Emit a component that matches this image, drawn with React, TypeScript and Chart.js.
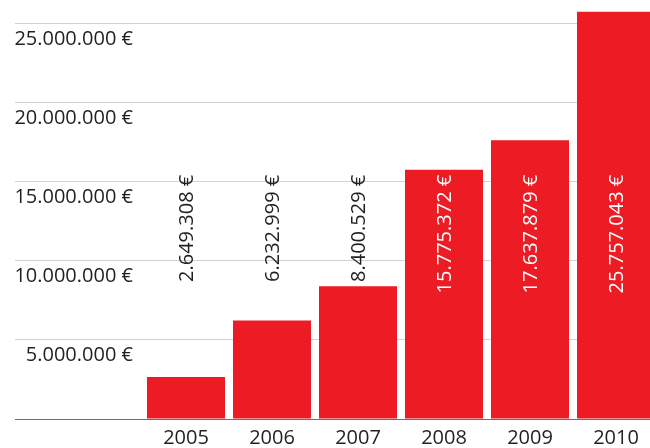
import React, { useEffect, useRef } from "react";
import { Chart, registerables } from "chart.js";

Chart.register(...registerables);

const years = ["2005", "2006", "2007", "2008", "2009", "2010"];
const revenue = [2649308, 6232999, 8400529, 15775372, 17637879, 25757043];
const yTicks = [0, 5000000, 10000000, 15000000, 20000000, 25000000];
const yMax = 26000000;
const labelAnchorValue = 15450000;

const RED = "#ED1C24";
const TEXT = "#231f20";
const FONT = "'Open Sans', 'Noto Sans', sans-serif";

function fmt(v: number): string {
  return String(Math.round(v)).replace(/\B(?=(\d{3})+(?!\d))/g, ".") + " €";
}

const valueLabels = {
  id: "valueLabels",
  afterDatasetsDraw(chart: any) {
    const ctx = chart.ctx;
    const meta = chart.getDatasetMeta(0);
    const y = chart.scales.y;
    const anchor = y.getPixelForValue(labelAnchorValue);
    ctx.save();
    ctx.font = `20px ${FONT}`;
    ctx.textAlign = "right";
    ctx.textBaseline = "middle";
    meta.data.forEach((el: any, i: number) => {
      const v = revenue[i];
      const inside = el.y < anchor;
      ctx.save();
      ctx.translate(el.x, anchor);
      ctx.rotate(-Math.PI / 2);
      ctx.fillStyle = inside ? "#ffffff" : TEXT;
      ctx.fillText(fmt(v), 0, 1);
      ctx.restore();
    });
    ctx.restore();
  },
};

export default function App() {
  const ref = useRef<HTMLCanvasElement>(null);
  useEffect(() => {
    if (!ref.current) return;
    const chart = new Chart(ref.current, {
      type: "bar",
      data: {
        labels: years,
        datasets: [
          {
            data: revenue,
            backgroundColor: RED,
            borderWidth: 0,
            barPercentage: 78 / 86,
            categoryPercentage: 1,
          },
        ],
      },
      plugins: [valueLabels],
      options: {
        responsive: false,
        animation: false,
        layout: { padding: { left: 15, right: 1, top: 8, bottom: 0 } },
        plugins: { legend: { display: false }, tooltip: { enabled: false } },
        scales: {
          x: {
            grid: { display: false, drawTicks: false },
            border: { display: false },
            ticks: { color: TEXT, font: { family: FONT, size: 20 }, padding: 7 },
            afterFit(scale: any) {
              scale.height = 29;
              scale.paddingLeft = 0;
              scale.paddingRight = 0;
            },
          },
          y: {
            min: 0,
            max: yMax,
            border: { display: false },
            afterBuildTicks(scale: any) {
              scale.ticks = yTicks.map((v) => ({ value: v }));
            },
            afterFit(scale: any) {
              scale.width = 128;
              scale.paddingTop = 0;
              scale.paddingBottom = 0;
            },
            grid: {
              drawTicks: true,
              tickLength: 128,
              color: (c: any) => (c.tick && c.tick.value === 0 ? "#6f6f6f" : "#d2d2d2"),
              lineWidth: 1,
            },
            ticks: {
              autoSkip: false,
              crossAlign: "near",
              padding: -118,
              labelOffset: 15,
              color: TEXT,
              font: { family: FONT, size: 20 },
              callback: (v: any) => (Number(v) === 0 ? "" : fmt(Number(v))),
            },
          },
        },
      },
    });
    return () => chart.destroy();
  }, []);
  return (
    <div style={{ position: "fixed", left: 0, top: 0, width: 650, height: 448, overflow: "hidden", background: "#fff" }}>
      <canvas ref={ref} width={660} height={448} style={{ display: "block" }} />
    </div>
  );
}
